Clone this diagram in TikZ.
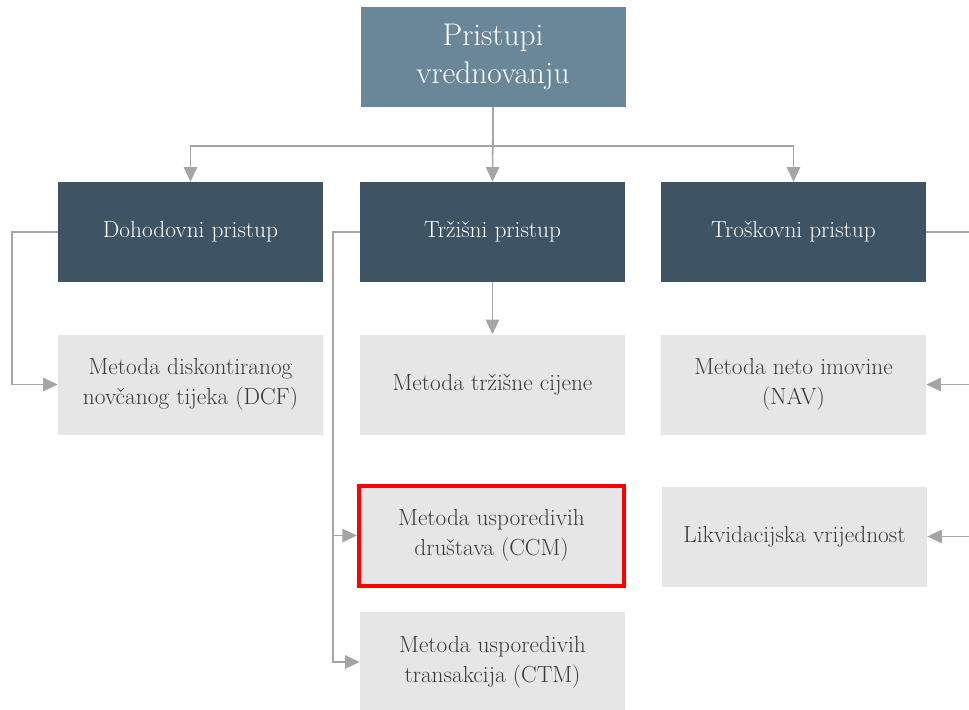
\documentclass[tikz,border=0pt]{standalone}
\usepackage{fontspec}
\usepackage{xcolor}
\usepackage{tikz}
\usetikzlibrary{arrows.meta}
\usetikzlibrary{positioning}

\definecolor{topblue}{HTML}{6A8799}
\definecolor{darkslate}{HTML}{3E5464}
\definecolor{lightbox}{HTML}{E6E6E6}
\definecolor{linegray}{HTML}{A5A5A5}
\definecolor{textgray}{HTML}{3A3A3A}

\begin{document}
\begin{tikzpicture}[x=0.75pt, y=-0.75pt]
      \tikzset{
        box/.style={minimum width=198.75pt, minimum height=75pt, inner sep=0pt,
            align=center, font=\fontsize{17.5}{22.5}\selectfont},
        headbox/.style={box, fill=topblue, text=white,
            font=\fontsize{23.5}{28}\selectfont},
        approach/.style={box, fill=darkslate, text=white},
        method/.style={box, fill=lightbox, text=textgray},
        picked/.style={method, draw=red, line width=3pt},
        link/.style={draw=linegray, line width=1.2pt},
        conn/.style={link, -{Triangle[length=11pt, width=10pt]}}
      }

      \useasboundingbox (0,0) rectangle (969,709);

      % Top
      \node[headbox] (top) at (493,57) {Pristupi\\vrednovanju};

      % Approaches
      \node[approach] (dohod) at (190.5,232) {Dohodovni pristup};
      \node[approach] (trzis) at (492.5,232) {Tržišni pristup};
      \node[approach] (trosk) at (793.5,232) {Troškovni pristup};

      % Methods
      \node[method] (dcf) at (190.5,384.5) {Metoda diskontiranog\\novčanog tijeka (DCF)};
      \node[method] (trzcij) at (492.5,384.5) {Metoda tržišne cijene};
      \node[method] (nav) at (793.5,384.5) {Metoda neto imovine\\(NAV)};
      \node[picked] (ccm) at (491.5,535.5) {Metoda usporedivih\\društava (CCM)};
      \node[method] (likv) at (794.5,536.5) {Likvidacijska vrijednost};
      \node[method] (ctm) at (492.5,662) {Metoda usporedivih\\transakcija (CTM)};

      % free ends on the right edge
      \coordinate (edgeA) at (975,232);
      \coordinate (edgeB) at (975,384.5);
      \coordinate (edgeC) at (975,536.5);

      % Connectors
      \draw[conn] (top.south) -- ++(0,39) -| (dohod.north);
      \draw[conn] (top.south) -- (trzis.north);
      \draw[conn] (top.south) -- ++(0,39) -| (trosk.north);

      \draw[conn] (dohod.west) -- ++(-46,0) |- (dcf.west);
      \draw[conn] (trzis.south) -- (trzcij.north);
      \draw[conn] (trzis.west) -- ++(-27,0) |- (ccm.west);
      \draw[conn] (trzis.west) -- ++(-27,0) |- (ctm.west);

      \draw[link] (trosk.east) -- (edgeA);
      \draw[conn] (edgeB) -- (nav.east);
      \draw[conn] (edgeC) -- (likv.east);
    \end{tikzpicture}
\end{document}
